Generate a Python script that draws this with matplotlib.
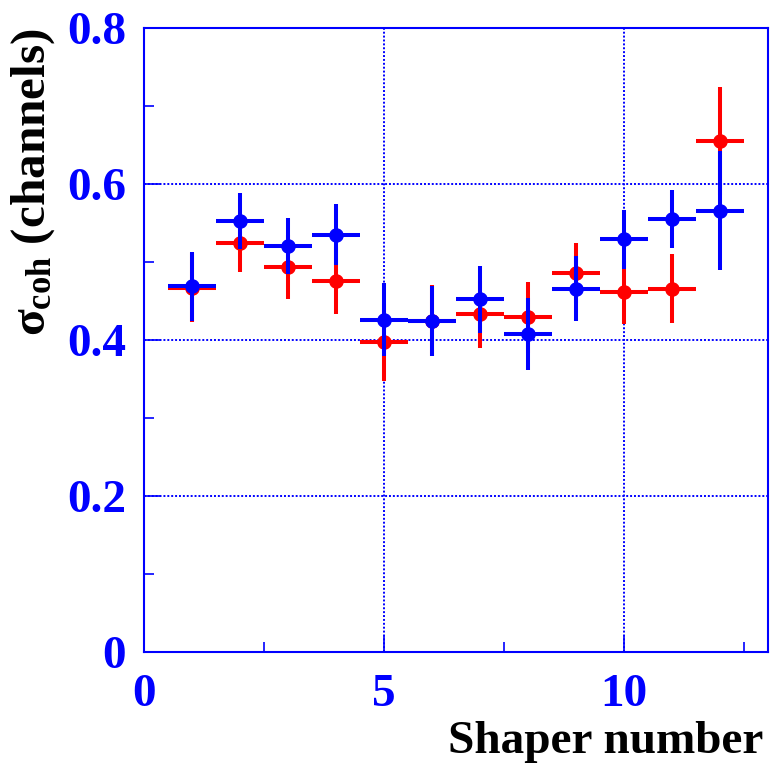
import matplotlib.pyplot as plt
import numpy as np
from matplotlib.ticker import MultipleLocator

# Данные
shaper = [1, 2, 3, 4, 5, 6, 7, 8, 9, 10, 11, 12]
red_sigma = [0.467, 0.525, 0.493, 0.476, 0.397, 0.425, 0.433, 0.429, 0.486, 0.461, 0.466, 0.655]
red_err = [0.044, 0.038, 0.041, 0.043, 0.049, 0.046, 0.043, 0.046, 0.039, 0.040, 0.044, 0.069]
blue_sigma = [0.469, 0.553, 0.520, 0.535, 0.426, 0.424, 0.452, 0.408, 0.466, 0.529, 0.555, 0.566]
blue_err = [0.044, 0.036, 0.036, 0.039, 0.047, 0.045, 0.043, 0.046, 0.042, 0.038, 0.037, 0.076]
bin_half = [0.5] * len(shaper)

plt.rcParams['font.family'] = 'Liberation Serif'
plt.rcParams['font.weight'] = 'bold'
plt.rcParams['mathtext.fontset'] = 'custom'
plt.rcParams['mathtext.rm'] = 'Liberation Serif:bold'
plt.rcParams['mathtext.it'] = 'Liberation Serif:bold'
plt.rcParams['mathtext.bf'] = 'Liberation Serif:bold'

fig = plt.figure(figsize=(7.71, 7.65), dpi=100)
ax = fig.add_axes([0.1868, 0.1477, 0.8093, 0.8157])

# Красная серия, затем синяя поверх
ax.errorbar(shaper, red_sigma, xerr=bin_half, yerr=red_err, fmt='o',
            color='#ff0000', ecolor='#ff0000', elinewidth=2.9, markersize=9.5,
            capsize=0, zorder=3)
ax.errorbar(shaper, blue_sigma, xerr=bin_half, yerr=blue_err, fmt='o',
            color='#0000ff', ecolor='#0000ff', elinewidth=2.9, markersize=9.5,
            capsize=0, zorder=4)

ax.set_xlim(0, 13)
ax.set_ylim(0, 0.8)
ax.xaxis.set_major_locator(MultipleLocator(5))
ax.xaxis.set_minor_locator(MultipleLocator(2.5))
ax.yaxis.set_major_locator(MultipleLocator(0.2))
ax.yaxis.set_minor_locator(MultipleLocator(0.1))
ax.yaxis.set_major_formatter(plt.FuncFormatter(lambda v, p: '0' if abs(v) < 1e-9 else f'{v:.1f}'))

ax.tick_params(which='both', direction='in', color='#0000ff', width=1.2,
               top=False, right=False)
ax.tick_params(which='major', length=12)
ax.tick_params(which='minor', length=7)
ax.tick_params(axis='x', which='major', labelsize=34, labelcolor='#0000ff', pad=16)
ax.tick_params(axis='y', which='major', labelsize=34, labelcolor='#0000ff', pad=13)

for s in ax.spines.values():
    s.set_color('#0000ff')
    s.set_linewidth(1.5)

ax.grid(True, which='major', color='#0000ff', linestyle=(0, (1, 1)), linewidth=1.4)
ax.set_axisbelow(True)

ax.set_xlabel('Shaper number', fontsize=34, fontweight='bold', color='black', loc='right')
ax.xaxis.set_label_coords(0.993, -0.11)
ax.set_ylabel(r'$\sigma_{\mathrm{coh}}$ (channels)', fontsize=35.5, fontweight='bold',
              color='black', loc='top')
ax.yaxis.set_label_coords(-0.14, 1.0)

fig.savefig('out.png', dpi=100)
